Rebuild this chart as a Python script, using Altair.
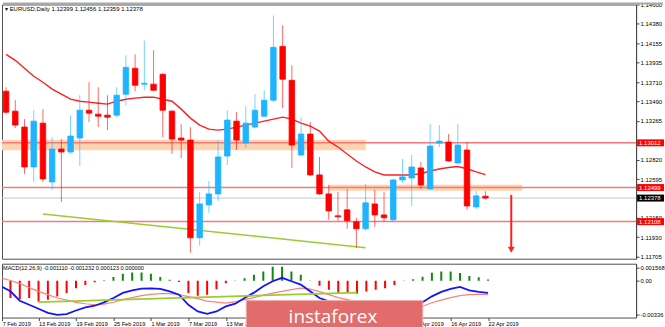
import altair as alt
import pandas as pd
import numpy as np

# ---------------- data ----------------
dates = [
    "2019-02-07", "2019-02-08", "2019-02-11", "2019-02-12", "2019-02-13", "2019-02-14", "2019-02-15",
    "2019-02-18", "2019-02-19", "2019-02-20", "2019-02-21", "2019-02-22", "2019-02-25", "2019-02-26",
    "2019-02-27", "2019-02-28", "2019-03-01", "2019-03-04", "2019-03-05", "2019-03-06", "2019-03-07",
    "2019-03-08", "2019-03-11", "2019-03-12", "2019-03-13", "2019-03-14", "2019-03-15", "2019-03-18",
    "2019-03-19", "2019-03-20", "2019-03-21", "2019-03-22", "2019-03-25", "2019-03-26", "2019-03-27",
    "2019-03-28", "2019-03-29", "2019-04-01", "2019-04-02", "2019-04-03", "2019-04-04", "2019-04-05",
    "2019-04-08", "2019-04-09", "2019-04-10", "2019-04-11", "2019-04-12", "2019-04-15", "2019-04-16",
    "2019-04-17", "2019-04-18", "2019-04-19", "2019-04-22",
]
opens = [1.13605, 1.13376, 1.13193, 1.12735, 1.13238, 1.12563, 1.12941, 1.12907, 1.13067, 1.13387,
         1.13341, 1.13330, 1.13330, 1.13570, 1.13868, 1.13685, 1.13685, 1.13799, 1.13376, 1.13067,
         1.13044, 1.11922, 1.12300, 1.12426, 1.12861, 1.13261, 1.13009, 1.13193, 1.13318, 1.13502,
         1.14119, 1.13730, 1.12872, 1.13113, 1.12644, 1.12426, 1.12174, 1.12243, 1.12106, 1.12026,
         1.12311, 1.12185, 1.12129, 1.12586, 1.12609, 1.12724, 1.12483, 1.13009, 1.13021, 1.12781,
         1.12930, 1.12277, 1.12399]
highs = [1.13650, 1.13502, 1.13284, 1.13387, 1.13399, 1.13078, 1.13055, 1.13330, 1.13559, 1.13708,
         1.13650, 1.13559, 1.13650, 1.14017, 1.14028, 1.14188, 1.14074, 1.13810, 1.13387, 1.13227,
         1.13193, 1.12449, 1.12575, 1.13044, 1.13387, 1.13364, 1.13433, 1.13570, 1.13616, 1.14474,
         1.14360, 1.13902, 1.13307, 1.13250, 1.12850, 1.12529, 1.12449, 1.12483, 1.12152, 1.12540,
         1.12472, 1.12449, 1.12598, 1.12827, 1.12873, 1.12792, 1.13227, 1.13216, 1.13113, 1.13227,
         1.13021, 1.12460, 1.12456]
lows = [1.13341, 1.13181, 1.12655, 1.12563, 1.12563, 1.12472, 1.12334, 1.12884, 1.12746, 1.13250,
        1.13193, 1.13158, 1.13307, 1.13444, 1.13605, 1.13616, 1.13605, 1.13078, 1.12884, 1.12838,
        1.11751, 1.11831, 1.12209, 1.12346, 1.12758, 1.12930, 1.12953, 1.13181, 1.13307, 1.13479,
        1.13410, 1.12724, 1.12861, 1.12632, 1.12415, 1.12129, 1.12117, 1.12026, 1.11808, 1.12003,
        1.12048, 1.12106, 1.12106, 1.12552, 1.12288, 1.12483, 1.12483, 1.12964, 1.12792, 1.12769,
        1.12243, 1.12254, 1.12359]
closes = [1.13364, 1.13216, 1.12735, 1.13261, 1.12598, 1.12941, 1.12907, 1.13090, 1.13387, 1.13353,
          1.13318, 1.13307, 1.13559, 1.13879, 1.13673, 1.13696, 1.13616, 1.13387, 1.13055, 1.13044,
          1.11922, 1.12311, 1.12426, 1.12850, 1.13273, 1.13044, 1.13238, 1.13387, 1.13502, 1.14108,
          1.13742, 1.12987, 1.13113, 1.12644, 1.12426, 1.12231, 1.12163, 1.12117, 1.12026, 1.12323,
          1.12185, 1.12152, 1.12586, 1.12621, 1.12735, 1.12529, 1.12975, 1.13032, 1.12804, 1.12987,
          1.12288, 1.12403, 1.12378]
ma = [1.14028, 1.13959, 1.13868, 1.13776, 1.13708, 1.13628, 1.13570, 1.13513, 1.13490, 1.13479,
      1.13467, 1.13456, 1.13490, 1.13513, 1.13525, 1.13536, 1.13536, 1.13513, 1.13490, 1.13399,
      1.13296, 1.13216, 1.13170, 1.13158, 1.13170, 1.13193, 1.13216, 1.13238, 1.13261, 1.13284,
      1.13307, 1.13284, 1.13238, 1.13204, 1.13147, 1.13032, 1.12964, 1.12884, 1.12804, 1.12735,
      1.12678, 1.12643, 1.12643, 1.12643, 1.12643, 1.12658, 1.12689, 1.12712, 1.12729, 1.12741,
      1.12715, 1.12678, 1.12647]
macd_main = [-0.000498, -0.000960, -0.001818, -0.002188, -0.002557, -0.002926, -0.003111, -0.003046,
             -0.002714, -0.002437, -0.002280, -0.001975, -0.001569, -0.001108, -0.000868, -0.000711,
             -0.000683, -0.000738, -0.000960, -0.001265, -0.002188, -0.002806, -0.003018, -0.002806,
             -0.002344, -0.002095, -0.001569, -0.001080, -0.000498, -0.000037, 0.000277, -0.000037,
             -0.000342, -0.000960, -0.001569, -0.001883, -0.002095, -0.002372, -0.002649, -0.002741,
             -0.002741, -0.002649, -0.002464, -0.002280, -0.002234, -0.001957, -0.001421, -0.001015,
             -0.000738, -0.000554, -0.000868, -0.001015, -0.001110]
macd_signal = [0.000277, 0.000028, -0.000249, -0.000618, -0.000960, -0.001265, -0.001569, -0.001772,
               -0.001975, -0.002095, -0.002188, -0.002123, -0.001957, -0.001726, -0.001541, -0.001357,
               -0.001237, -0.001172, -0.001172, -0.001265, -0.001449, -0.001634, -0.001864, -0.001957,
               -0.002031, -0.001911, -0.001726, -0.001541, -0.001311, -0.001126, -0.000960, -0.000803,
               -0.000665, -0.000757, -0.000988, -0.001265, -0.001541, -0.001726, -0.001957, -0.002141,
               -0.002280, -0.002372, -0.002372, -0.002400, -0.002372, -0.002326, -0.002003, -0.001772,
               -0.001541, -0.001357, -0.001265, -0.001237, -0.001232]
macd_hist = [-0.00140, -0.00158, -0.00167, -0.00158, -0.00189, -0.00173, -0.00143, -0.00112, -0.00067,
             -0.00037, -0.00012, 0.00005, 0.00034, 0.00064, 0.00076, 0.00076, 0.00064, 0.00034, 0.00009,
             -0.00010, -0.00112, -0.00137, -0.00128, -0.00076, -0.00021, 0.00003, 0.00024, 0.00055,
             0.00085, 0.00130, 0.00130, 0.00085, 0.00055, 0.00002, -0.00046, -0.00082, -0.00110,
             -0.00112, -0.00119, -0.00098, -0.00082, -0.00067, -0.00037, 0.00003, 0.00015, 0.00038,
             0.00075, 0.00085, 0.00085, 0.00072, 0.00045, 0.00032, 0.000123]

# axis tick values / labels that are visible in the reference
price_ticks = [1.14600, 1.14380, 1.14155, 1.13935, 1.13710, 1.13490, 1.13265, 1.12820,
               1.12595, 1.12150, 1.11930, 1.11705]
date_tick_labels = ["7 Feb 2019", "13 Feb 2019", "19 Feb 2019", "25 Feb 2019", "1 Mar 2019",
                    "7 Mar 2019", "13 Mar 2019", "10 Apr 2019", "16 Apr 2019", "22 Apr 2019"]
date_tick_dates = ["2019-02-07", "2019-02-13", "2019-02-19", "2019-02-25", "2019-03-01", "2019-03-07",
                   "2019-03-13", "2019-04-10", "2019-04-16", "2019-04-22"]

level_prices = [1.13012, 1.12499, 1.12108]
current_price = 1.12378
band_start_bar = [-3, 35]
band_end_bar = [39, 56]
band_low = [1.12926, 1.12463]
band_high = [1.13047, 1.12532]
trend_bars = [4, 39]
trend_prices = [1.12194, 1.11808]
macd_trend_bars = [4, 38]
macd_trend_vals = [-0.00194, -0.00108]
arrow_bar = 54.8
arrow_top = 1.12415
arrow_tip = 1.11785

title_text = "\u25be EURUSD,Daily  1.12399 1.12456 1.12359 1.12378"
macd_text = "MACD(12,26,9) -0.001110 -0.001232 0.000123 0.000000"

# ---------------- styling ----------------
BLUE = "#1eb4ff"
RED = "#ff0000"
GREEN_H = "#0c8a0c"
W, H_MAIN, H_MACD = 636, 255, 54
FONT = "Liberation Sans"

bars = list(range(len(dates)))
df = pd.DataFrame({"bar": bars, "date": dates, "open": opens, "high": highs, "low": lows,
                   "close": closes, "ma": ma, "macd": macd_main, "signal": macd_signal,
                   "hist": macd_hist})

xs = alt.Scale(domain=[0.1, 67.8], nice=False, zero=False)
ys = alt.Scale(domain=[1.11682, 1.14600], nice=False, zero=False)
ms = alt.Scale(domain=[-0.00336, 0.001568], nice=False, zero=False)
up_color = alt.condition("datum.close >= datum.open", alt.value(BLUE), alt.value(RED))

price_axis = alt.Axis(orient="right", values=price_ticks, labelExpr="format(datum.value, '.5f')",
                      grid=False, tickSize=3, labelPadding=1, labelFontSize=6, labelFont=FONT,
                      labelColor="#000", tickColor="#444", domainColor="#444", title=None)


def PY(field):
    return alt.Y(field, scale=ys, axis=price_axis)


Xb = alt.X("bar:Q", scale=xs, axis=None)

bands_df = pd.DataFrame({"x0": band_start_bar, "x1": band_end_bar, "lo": band_low, "hi": band_high})
bands = alt.Chart(bands_df).mark_rect(color="#ffd3b0", clip=True).encode(
    x=alt.X("x0:Q", scale=xs, axis=None), x2="x1:Q", y=PY("lo:Q"), y2="hi:Q")

levels = alt.Chart(pd.DataFrame({"p": level_prices})).mark_rule(color="#f87878", strokeWidth=1.5).encode(
    y=PY("p:Q"))
cur_line = alt.Chart(pd.DataFrame({"p": [current_price]})).mark_rule(color="#c8c8c8", strokeWidth=1).encode(
    y=PY("p:Q"))

trend = alt.Chart(pd.DataFrame({"bar": trend_bars, "p": trend_prices})).mark_line(
    color="#9acd32", strokeWidth=1.5, clip=True).encode(x=Xb, y=PY("p:Q"))

ma_line = alt.Chart(df).mark_line(color="#ff2020", strokeWidth=1.4, clip=True).encode(
    x=Xb, y=PY("ma:Q"))

wicks = alt.Chart(df).mark_rule(strokeWidth=1, opacity=0.6, clip=True).encode(
    x=Xb, y=PY("low:Q"), y2="high:Q", color=up_color)
bodies = alt.Chart(df).mark_bar(size=5.5, strokeWidth=0.8, clip=True).encode(
    x=Xb, y=PY("open:Q"), y2="close:Q", color=up_color, stroke=up_color)

arrow_df = pd.DataFrame({"bar": [arrow_bar], "top": [arrow_top], "tip": [arrow_tip]})
arrow_line = alt.Chart(arrow_df).mark_rule(color="#ff2020", strokeWidth=2).encode(
    x=Xb, y=PY("top:Q"), y2="tip:Q")
arrow_head = alt.Chart(arrow_df).mark_point(shape="triangle-down", filled=True, size=45,
                                            color="#ff2020", opacity=1).encode(
    x=Xb, y=PY("tip:Q"))

lab_df = pd.DataFrame({"p": level_prices + [current_price],
                       "kind": ["lvl", "lvl", "lvl", "cur"]})
lab_df["label"] = lab_df["p"].map(lambda v: f"{v:.5f}")
lab_df["lo"] = lab_df["p"] - 0.00040
lab_df["hi"] = lab_df["p"] + 0.00040
lab_box = alt.Chart(lab_df).mark_rect().encode(
    x=alt.value(W + 1), x2=alt.value(W + 28), y=PY("lo:Q"), y2="hi:Q",
    color=alt.condition("datum.kind == 'cur'", alt.value("#000000"), alt.value("#ff0000")))
lab_txt = alt.Chart(lab_df).mark_text(align="left", baseline="middle", fontSize=6, font=FONT,
                                      color="white").encode(
    x=alt.value(W + 3), y=PY("p:Q"), text="label:N")

top_strip = alt.Chart(pd.DataFrame({"a": [0]})).mark_rule(color="#a8a8a8", strokeWidth=2).encode(
    x=alt.value(1), x2=alt.value(663), y=alt.value(-1))
title = alt.Chart(pd.DataFrame({"t": [title_text]})).mark_text(
    align="left", baseline="middle", fontSize=6, font=FONT, color="#000").encode(
    x=alt.value(3), y=alt.value(5), text="t:N")

main = alt.layer(bands, levels, cur_line, trend, ma_line, wicks, bodies, arrow_line, arrow_head,
                 lab_box, lab_txt, top_strip, title).properties(width=W, height=H_MAIN)

# ---------------- MACD panel ----------------
tick_bars = [max(dates.index(d), 0.12) for d in date_tick_dates]
label_js = "{" + ",".join("'%d':'%s'" % (round(b), s) for b, s in zip(tick_bars, date_tick_labels)) + "}"
x_axis = alt.Axis(values=tick_bars, labelExpr=label_js + "[''+round(datum.value)]",
                  labelAlign="left", labelFontSize=5.6, labelFont=FONT, labelColor="#000",
                  tickSize=3, tickColor="#444", labelPadding=1, domain=False, grid=False,
                  labelOverlap=False, labelFlush=False, title=None)
Xm = alt.X("bar:Q", scale=xs, axis=x_axis)

macd_axis = alt.Axis(orient="right", values=[0.0012, 0.0, -0.00305],
                     labelExpr="datum.value > 0.001 ? '0.001568' : (datum.value < -0.002 ? '-0.00336' : '0.00')",
                     grid=False, tickSize=3, labelPadding=1, labelFontSize=5.8, labelFont=FONT,
                     labelColor="#000", tickColor="#444", domainColor="#444", title=None)


def MY(field):
    return alt.Y(field, scale=ms, axis=macd_axis)


hist = alt.Chart(df).mark_rule(strokeWidth=2, clip=True).encode(
    x=Xm, y=MY("hist:Q"), y2=alt.datum(0),
    color=alt.condition("datum.hist >= 0", alt.value(GREEN_H), alt.value(RED)))
sig_line = alt.Chart(df).mark_line(color="#ff8080", strokeWidth=1.2, clip=True).encode(
    x=Xm, y=MY("signal:Q"))
main_line = alt.Chart(df).mark_line(color="#1414ff", strokeWidth=1.8, clip=True).encode(
    x=Xm, y=MY("macd:Q"))
mtrend = alt.Chart(pd.DataFrame({"bar": macd_trend_bars, "v": macd_trend_vals})).mark_line(
    color="#9acd32", strokeWidth=1.8, clip=True).encode(x=Xm, y=MY("v:Q"))
mtitle = alt.Chart(pd.DataFrame({"t": [macd_text]})).mark_text(
    align="left", baseline="middle", fontSize=5.6, font=FONT, color="#000").encode(
    x=alt.value(1), y=alt.value(4), text="t:N")

wm_box = alt.Chart(pd.DataFrame({"a": [0]})).mark_rect(color="#e26c6c", stroke="#f2aaaa",
                                                        strokeWidth=1).encode(
    x=alt.value(245), x2=alt.value(422), y=alt.value(37), y2=alt.value(68))
wm_txt = alt.Chart(pd.DataFrame({"t": ["instaforex"]})).mark_text(
    align="center", baseline="alphabetic", fontSize=19, font="Open Sans", color="white").encode(
    x=alt.value(332), y=alt.value(59), text="t:N")

macd = alt.layer(hist, sig_line, main_line, mtrend, mtitle, wm_box, wm_txt).properties(
    width=W, height=H_MACD)

chart = alt.vconcat(main, macd, spacing=2).properties(
    padding={"left": 0, "top": 0, "right": 0, "bottom": 0}, background="white"
).configure_view(stroke="#505050", strokeWidth=1)

chart.save("out.html", embed_options={"renderer": "svg", "actions": False})
